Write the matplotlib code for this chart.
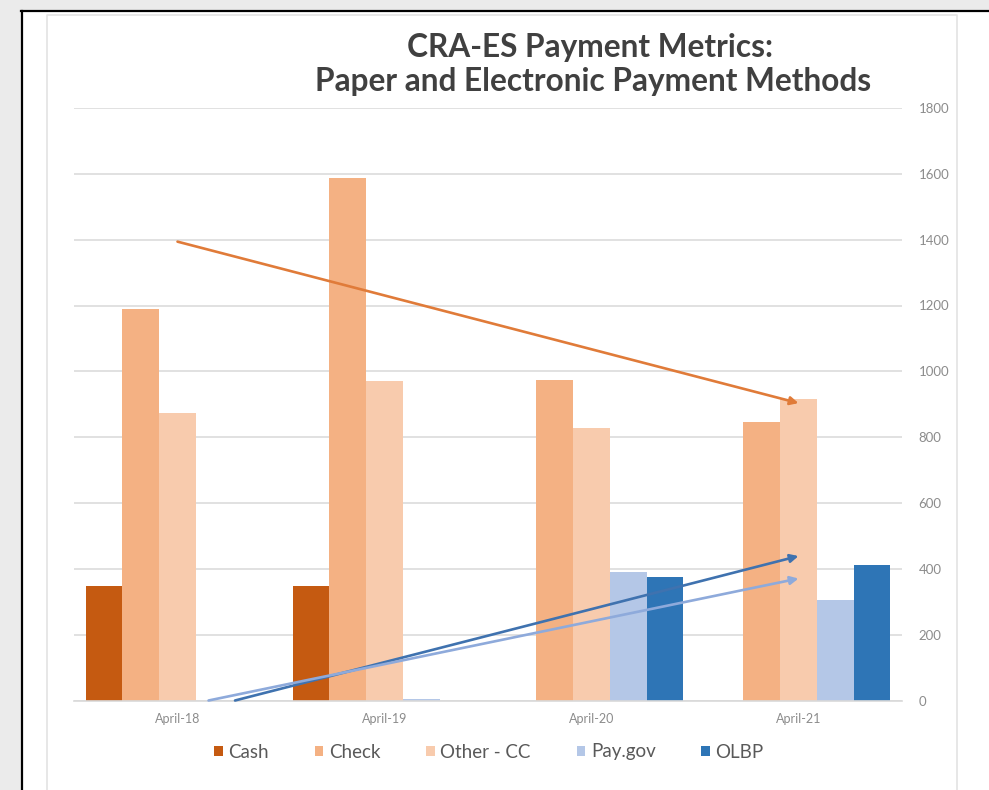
import matplotlib
matplotlib.use('Agg')
import matplotlib.pyplot as plt
from matplotlib.patches import Rectangle
from matplotlib.lines import Line2D
import numpy as np

# Data
months = ['April-18', 'April-19', 'April-20', 'April-21']
cash = [348, 348, 0, 0]
check = [1188, 1586, 974, 847]
other_cc = [874, 971, 827, 915]
pay_gov = [0, 6, 391, 305]
olbp = [0, 0, 376, 412]

series_names = ['Cash', 'Check', 'Other - CC', 'Pay.gov', 'OLBP']
series_colors = ['#c55a11', '#f4b183', '#f8cbad', '#b4c7e7', '#2e75b6']
y_ticks = [0, 200, 400, 600, 800, 1000, 1200, 1400, 1600, 1800]

W, H = 989, 790
plt.rcParams['font.family'] = ['Lato', 'DejaVu Sans']

fig = plt.figure(figsize=(W / 100, H / 100), dpi=100)
fig.patch.set_facecolor('#ebebeb')


def fx(px):
    return px / W


def fy(py):
    return 1 - py / H


# white panel with black left/top frame
fig.patches.append(Rectangle((fx(22), 0), 1 - fx(22), fy(11), transform=fig.transFigure,
                             facecolor='white', edgecolor='none', zorder=-5))
fig.lines.append(Line2D([fx(22), fx(22)], [0, fy(11)], transform=fig.transFigure,
                        color='black', lw=1.6, zorder=-4))
fig.lines.append(Line2D([fx(21), 1], [fy(11), fy(11)], transform=fig.transFigure,
                        color='black', lw=1.6, zorder=-4))
# light grey chart-area border
fig.lines.append(Line2D([fx(47), fx(47), fx(957), fx(957)], [0, fy(15), fy(15), 0],
                        transform=fig.transFigure, color='#e3e3e3', lw=1.2, zorder=-4))

ax = fig.add_axes([fx(74), fy(700.5), fx(902) - fx(74), fy(108) - fy(700.5)])
ax.set_facecolor('none')

x = np.arange(len(months))
w = 0.1775
all_series = [cash, check, other_cc, pay_gov, olbp]
for j, (vals, name, col) in enumerate(zip(all_series, series_names, series_colors)):
    ax.bar(x + (j - 2) * w, vals, width=w, color=col, label=name, zorder=2)

# linear trendlines (as Excel draws them) with arrow heads
trend_specs = [(check, '#e07b39'), (olbp, '#3f72af'), (pay_gov, '#8eaadb')]
for vals, col in trend_specs:
    m, b = np.polyfit(x, vals, 1)
    x0 = 0.0
    if m * x0 + b < 0:
        x0 = -b / m
    x1 = 3.0
    ax.annotate('', xy=(x1, m * x1 + b), xytext=(x0, m * x0 + b),
                arrowprops=dict(arrowstyle='-|>', color=col, lw=1.9,
                                mutation_scale=12, shrinkA=0, shrinkB=0),
                zorder=3)

ax.set_xlim(-0.5, 3.5)
ax.set_ylim(0, 1800)
ax.set_yticks(y_ticks)
ax.yaxis.tick_right()
ax.tick_params(axis='y', length=0, pad=12, labelsize=9.5, labelcolor='#8c8c8c')
ax.tick_params(axis='x', length=0, pad=9, labelsize=9, labelcolor='#8c8c8c')
ax.set_xticks(x)
ax.set_xticklabels(months)
ax.grid(axis='y', color='#d9d9d9', lw=1.1, zorder=0)
ax.set_axisbelow(True)
for s in ['top', 'right', 'left']:
    ax.spines[s].set_visible(False)
ax.spines['bottom'].set_color('#d9d9d9')
ax.spines['bottom'].set_linewidth(1.2)

fig.text(fx(590), fy(48), 'CRA-ES Payment Metrics:', ha='center', va='center',
         fontsize=22.8, fontweight='bold', color='#404040')
fig.text(fx(593), fy(82), 'Paper and Electronic Payment Methods', ha='center', va='center',
         fontsize=22.8, fontweight='bold', color='#404040')

leg = fig.legend(loc='center', bbox_to_anchor=(fx(489), fy(752)), ncol=5, frameon=False,
                 fontsize=13.5, handlelength=0.45, handleheight=0.45, handletextpad=0.3,
                 columnspacing=2.45, labelcolor='#595959')

fig.savefig('out.png', dpi=100, facecolor=fig.get_facecolor())
